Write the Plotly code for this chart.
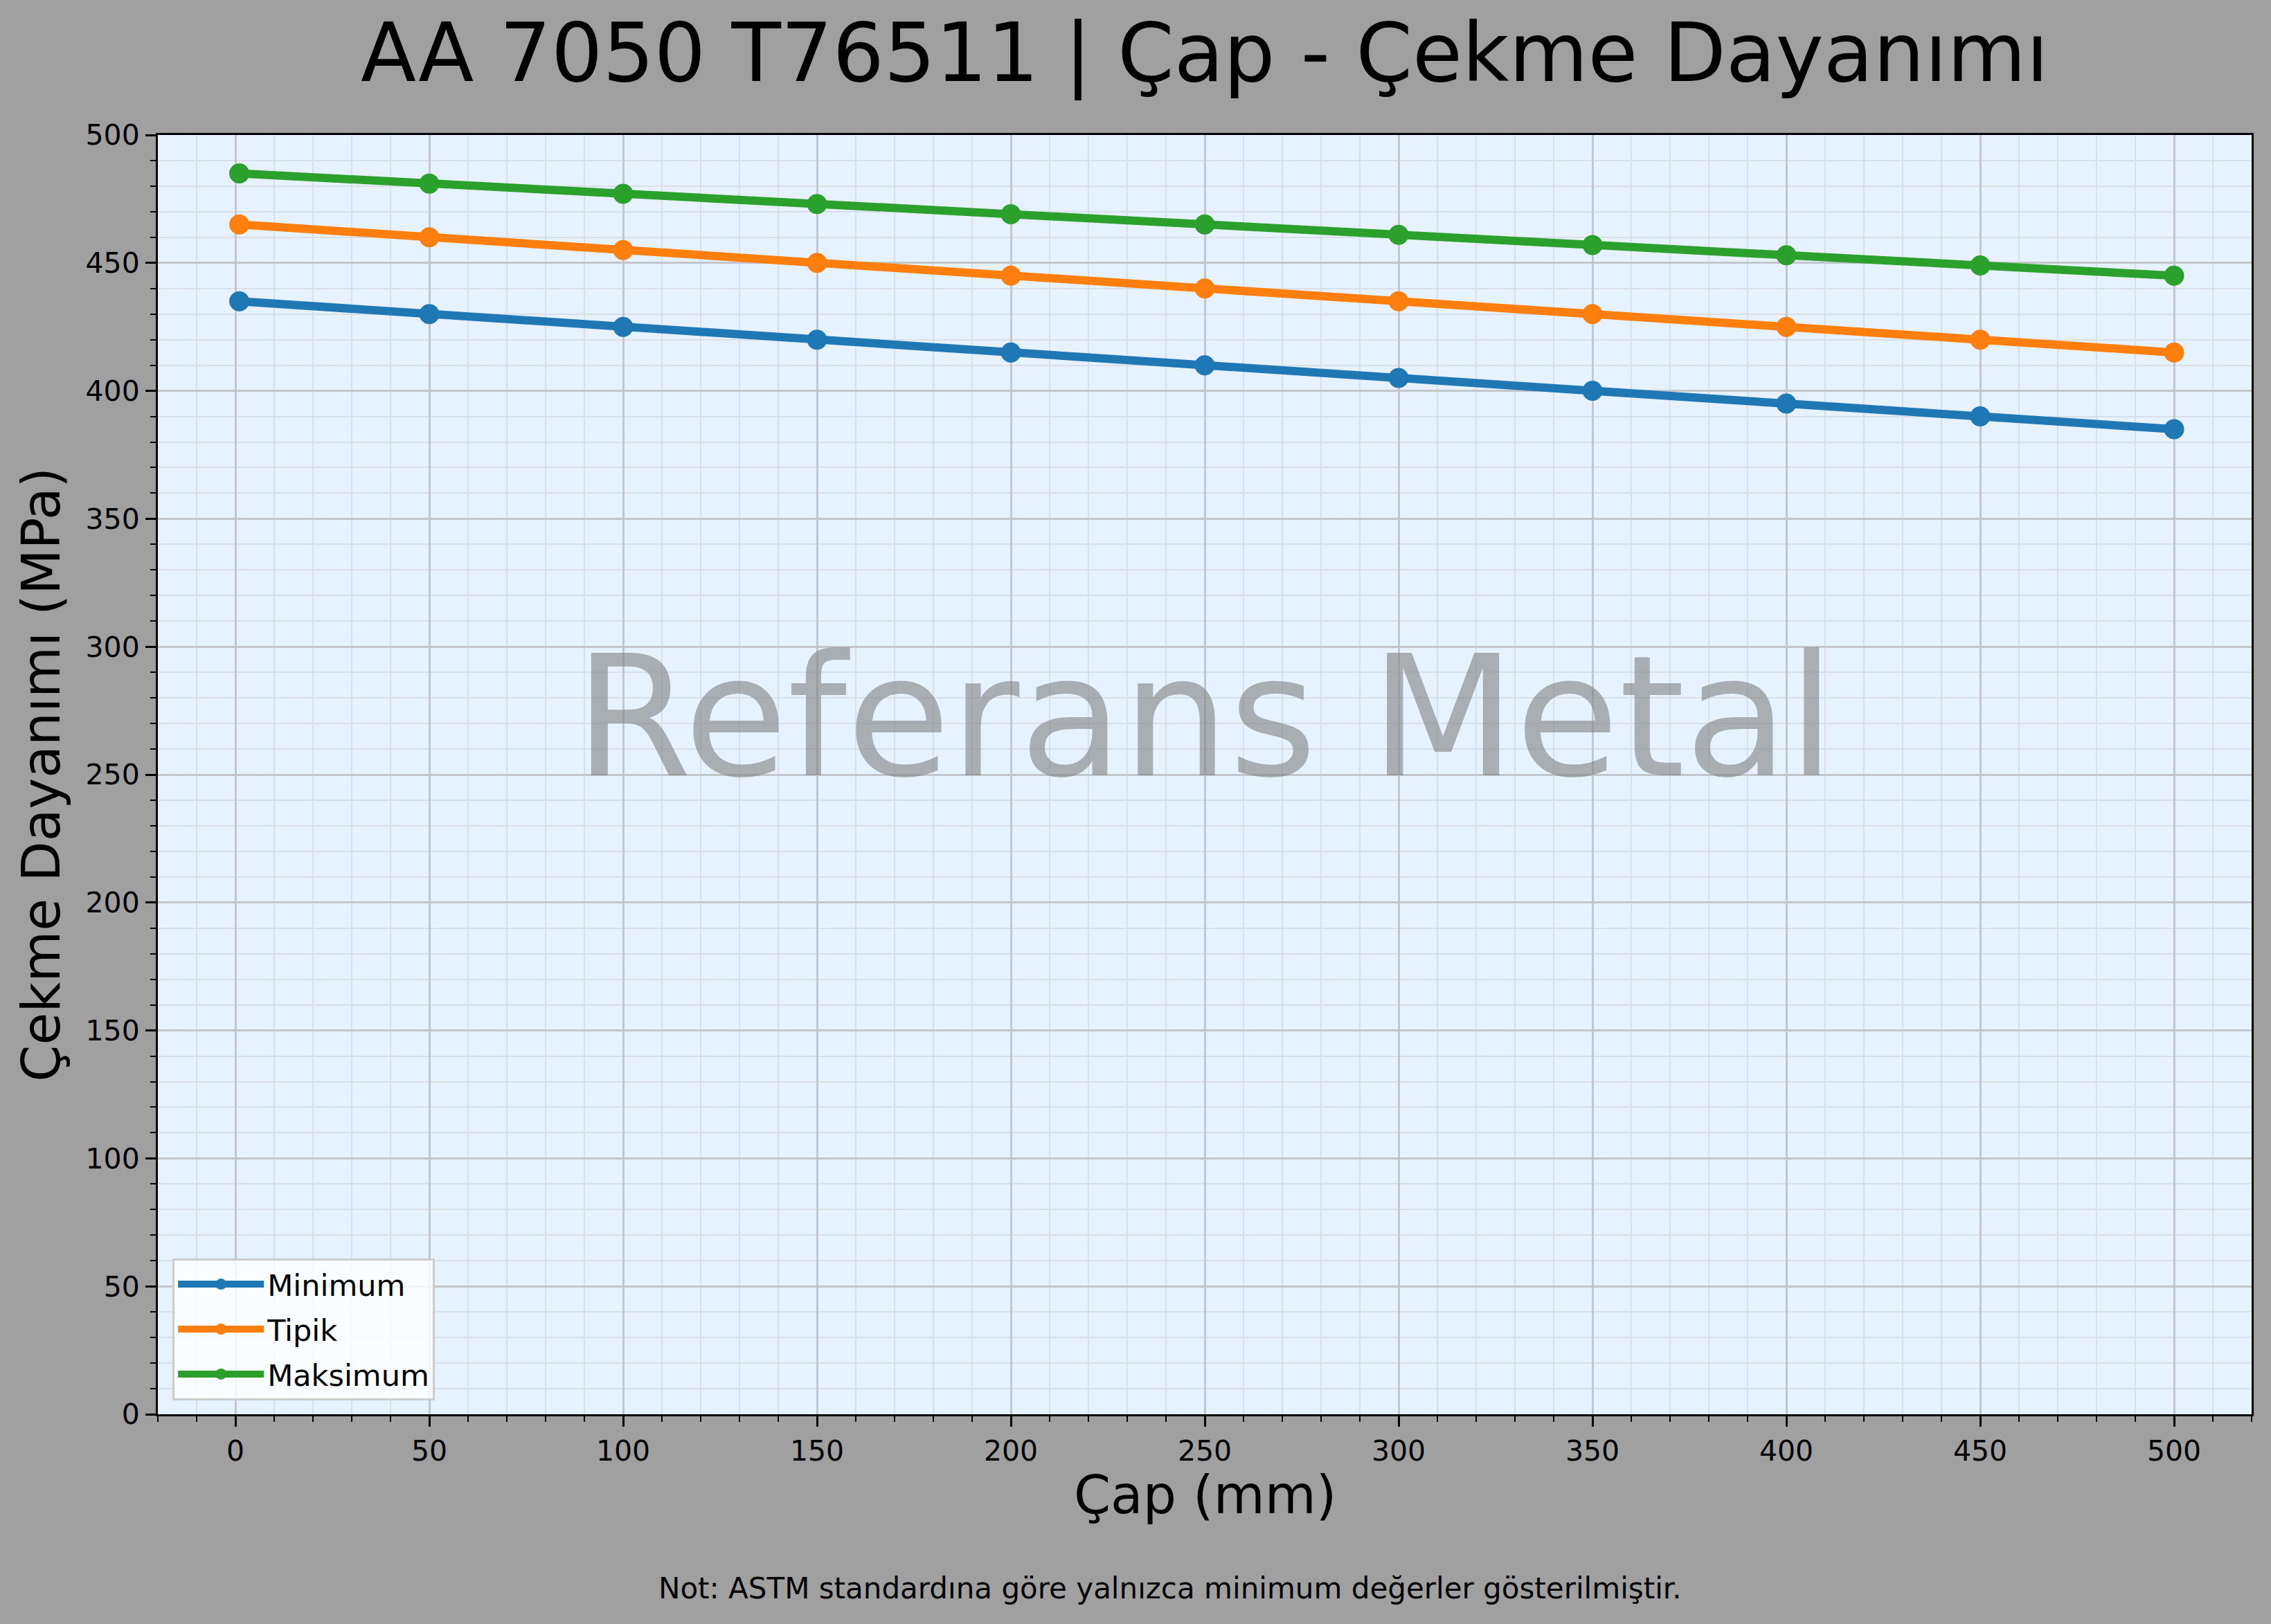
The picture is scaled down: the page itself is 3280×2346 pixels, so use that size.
import plotly.graph_objects as go

# diameters (mm) and tensile strength (MPa)
diameters = [1, 50, 100, 150, 200, 250, 300, 350, 400, 450, 500]
minimum = [435, 430, 425, 420, 415, 410, 405, 400, 395, 390, 385]
tipik = [465, 460, 455, 450, 445, 440, 435, 430, 425, 420, 415]
maksimum = [485, 481, 477, 473, 469, 465, 461, 457, 453, 449, 445]

series_names = ["Minimum", "Tipik", "Maksimum"]
colours = ["#1f77b4", "#ff7f0e", "#2ca02c"]

FONT = "DejaVu Sans"

fig = go.Figure()
for name, values, colour in zip(series_names, [minimum, tipik, maksimum], colours):
    fig.add_trace(
        go.Scatter(
            x=diameters,
            y=values,
            name=name,
            legendgroup=name,
            mode="lines+markers",
            line=dict(color=colour, width=12),
            marker=dict(color=colour, size=29),
        )
    )

axis_common = dict(
    showline=True,
    mirror=True,
    linecolor="black",
    linewidth=3,
    ticks="outside",
    ticklen=15,
    tickwidth=3,
    tickcolor="black",
    tickfont=dict(family=FONT, size=41, color="black"),
    showgrid=True,
    gridcolor="#c3c6ca",
    gridwidth=2.5,
    zeroline=False,
    minor=dict(
        dtick=10,
        ticks="outside",
        ticklen=8,
        tickwidth=2,
        tickcolor="black",
        showgrid=True,
        gridcolor="#d8dfe8",
        gridwidth=2,
    ),
)

fig.update_xaxes(range=[-20, 520], tick0=0, dtick=50, **axis_common)
fig.update_yaxes(range=[0, 500], tick0=0, dtick=50, **axis_common)

fig.update_layout(
    width=3280,
    height=2346,
    margin=dict(l=228, r=28, t=195, b=303),
    paper_bgcolor="#a0a0a0",
    plot_bgcolor="#e6f2ff",
    font=dict(family=FONT, color="black"),
    showlegend=True,
    legend=dict(
        x=0.007,
        y=0.011,
        xanchor="left",
        yanchor="bottom",
        bgcolor="rgba(255,255,255,0.8)",
        bordercolor="#cccccc",
        borderwidth=3,
        font=dict(family=FONT, size=43, color="black"),
        itemwidth=124,
        tracegroupgap=6,
    ),
    annotations=[
        dict(
            text="AA 7050 T76511 | Çap - Çekme Dayanımı",
            xref="paper", yref="paper", x=0.5, y=1.064,
            xanchor="center", yanchor="middle", showarrow=False,
            font=dict(family=FONT, size=117, color="black"),
        ),
        dict(
            text="Referans Metal",
            xref="paper", yref="paper", x=0.5, y=0.545,
            xanchor="center", yanchor="middle", showarrow=False,
            font=dict(family=FONT, size=243, color="rgba(128,128,128,0.6)"),
        ),
        dict(
            text="Çap (mm)",
            xref="paper", yref="paper", x=0.5, y=-0.063,
            xanchor="center", yanchor="middle", showarrow=False,
            font=dict(family=FONT, size=76, color="black"),
        ),
        dict(
            text="Çekme Dayanımı (MPa)",
            xref="paper", yref="paper", x=-0.056, y=0.5,
            xanchor="center", yanchor="middle", showarrow=False, textangle=-90,
            font=dict(family=FONT, size=76, color="black"),
        ),
        dict(
            text="Not: ASTM standardına göre yalnızca minimum değerler gösterilmiştir.",
            xref="paper", yref="paper", x=(1690 - 228) / 3024, y=-0.136,
            xanchor="center", yanchor="middle", showarrow=False,
            font=dict(family=FONT, size=42, color="black"),
        ),
    ],
)

fig.write_html(
    "out.html",
    config={"displayModeBar": False},
    post_script="document.body.style.margin='0';",
)
